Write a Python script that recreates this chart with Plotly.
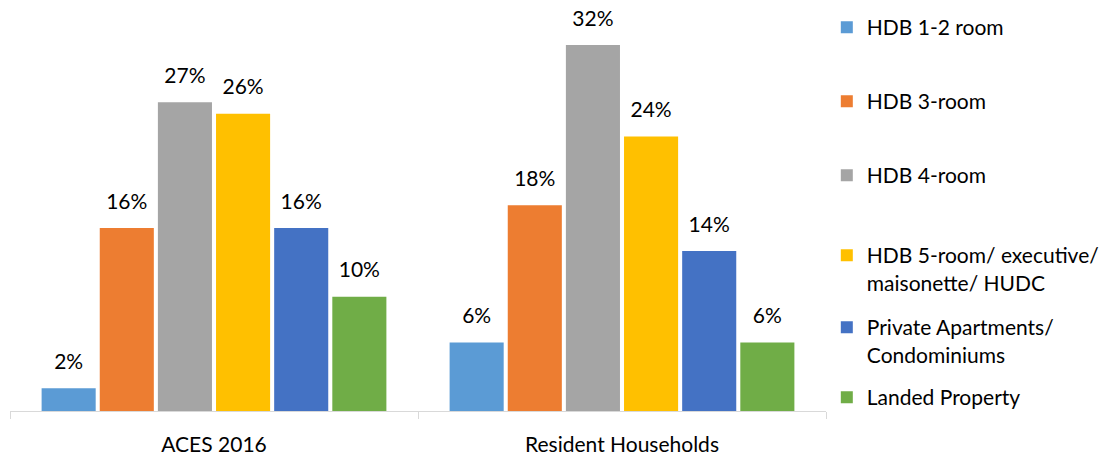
import plotly.graph_objects as go

categories = ["ACES 2016", "Resident Households"]
series_names = [
    "HDB 1-2 room",
    "HDB 3-room",
    "HDB 4-room",
    "HDB 5-room/ executive/<br>maisonette/ HUDC",
    "Private Apartments/<br>Condominiums",
    "Landed Property",
]
hdb_1_2 = [2, 6]
hdb_3 = [16, 18]
hdb_4 = [27, 32]
hdb_5_exec = [26, 24]
private_apts = [16, 14]
landed = [10, 6]
series_values = [hdb_1_2, hdb_3, hdb_4, hdb_5_exec, private_apts, landed]
colors = ["#5B9BD5", "#ED7D31", "#A5A5A5", "#FFC000", "#4472C4", "#70AD47"]

FONT = "Lato"
FS = 21

# Legend entries are placed one per legend box (top edge, px from top)
legend_tops = [7, 81, 155, 235, 307, 377]
PLOT_H = 411

fig = go.Figure()
legend_ids = ["legend"] + [f"legend{i}" for i in range(2, 7)]
for name, vals, col, lid in zip(series_names, series_values, colors, legend_ids):
    fig.add_trace(go.Bar(
        name=name, x=categories, y=vals,
        marker=dict(color=col, line=dict(width=0)),
        legend=lid,
    ))
# value labels sit above each bar, grouped the same way as the bars
for name, vals in zip(series_names, series_values):
    fig.add_trace(go.Scatter(
        x=categories, y=vals, mode="markers+text",
        text=[f"{v}%" for v in vals], textposition="top center",
        marker=dict(size=21, opacity=0),
        textfont=dict(family=FONT, size=FS, color="#000000"),
        showlegend=False, hoverinfo="skip", cliponaxis=False,
    ))

layout_legends = {}
for lid, top in zip(legend_ids, legend_tops):
    layout_legends[lid] = dict(
        x=1.001, xanchor="left", y=1 - top / PLOT_H, yanchor="top",
        font=dict(family=FONT, size=FS, color="#000000"),
        bgcolor="rgba(0,0,0,0)", valign="top", itemclick=False,
    )

fig.update_layout(
    width=1111, height=459,
    margin=dict(l=10, r=285, t=0, b=48),
    paper_bgcolor="white", plot_bgcolor="white",
    barmode="group", bargap=0.145, bargroupgap=0.07,
    scattermode="group", scattergap=0.145,
    font=dict(family=FONT, size=FS, color="#000000"),
    xaxis=dict(
        showline=True, linecolor="#D9D9D9", linewidth=1,
        ticks="outside", tickson="boundaries", ticklen=7, tickcolor="#D9D9D9",
        showgrid=False, ticklabelstandoff=15,
        tickfont=dict(family=FONT, size=FS, color="#000000"),
    ),
    yaxis=dict(range=[0, 32 * PLOT_H / 366], visible=False, showgrid=False),
    **layout_legends,
)

fig.write_html("out.html")
